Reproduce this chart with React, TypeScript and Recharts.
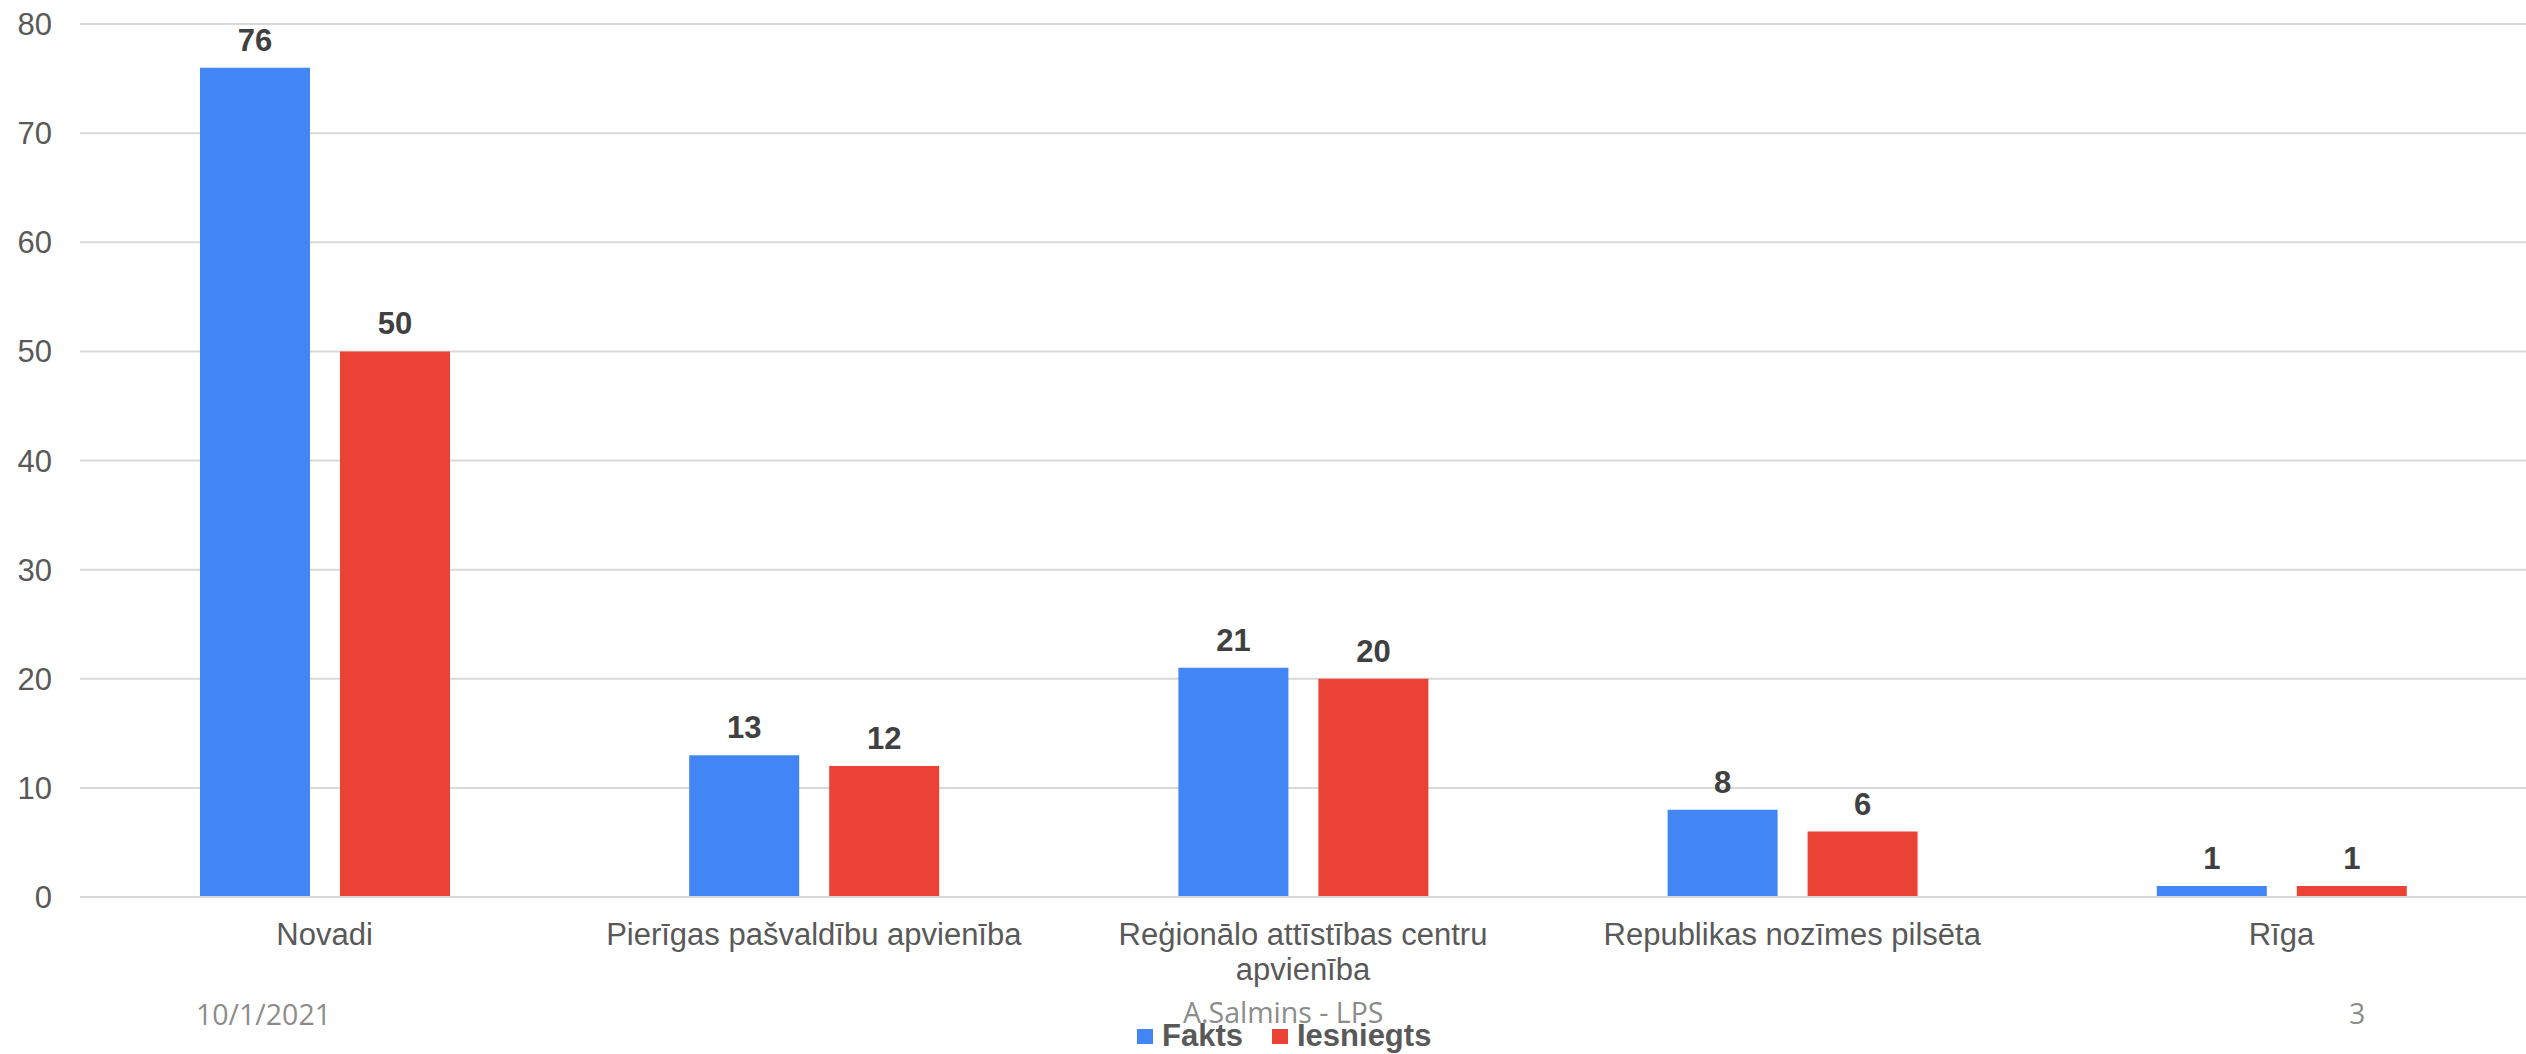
import React from "react";
import { BarChart, Bar, XAxis, YAxis, CartesianGrid, LabelList, Legend } from "recharts";

const FONT = '"Liberation Sans", Arial, sans-serif';
const FOOTER_FONT = '"Open Sans", "Liberation Sans", sans-serif';

const categories = [
  "Novadi",
  "Pierīgas pašvaldību apvienība",
  "Reģionālo attīstības centru apvienība",
  "Republikas nozīmes pilsēta",
  "Rīga",
];
const fakts = [76, 13, 21, 8, 1];
const iesniegts = [50, 12, 20, 6, 1];
const yTicks = [0, 10, 20, 30, 40, 50, 60, 70, 80];

const data = categories.map((name, i) => ({
  name,
  fakts: fakts[i],
  iesniegts: iesniegts[i],
}));

// greedy word wrap so long category names break onto a second line
function wrapLabel(text: string, maxChars: number): string[] {
  const lines: string[] = [];
  let current = "";
  for (const word of text.split(" ")) {
    const next = current ? `${current} ${word}` : word;
    if (next.length > maxChars && current) {
      lines.push(current);
      current = word;
    } else {
      current = next;
    }
  }
  if (current) lines.push(current);
  return lines;
}

function CategoryTick(props: any) {
  const { x, y, payload } = props;
  const lines = wrapLabel(String(payload.value), 30);
  return (
    <text x={x} y={y} textAnchor="middle" fill="#595959" fontSize={31} fontFamily={FONT}>
      {lines.map((line, i) => (
        <tspan key={i} x={x} dy={i === 0 ? 48 : 35}>
          {line}
        </tspan>
      ))}
    </text>
  );
}

function LegendContent(props: any) {
  const { payload = [] } = props;
  return (
    <div
      style={{
        display: "flex",
        alignItems: "center",
        fontFamily: FONT,
        fontWeight: 700,
        fontSize: 31,
        lineHeight: "34px",
        color: "#595959",
        whiteSpace: "nowrap",
      }}
    >
      {payload.map((entry: any, i: number) => (
        <span
          key={entry.value}
          style={{ display: "flex", alignItems: "center", marginLeft: i === 0 ? 0 : 29 }}
        >
          <span
            style={{
              display: "inline-block",
              width: 16,
              height: 15,
              background: entry.color,
              marginRight: 9,
            }}
          />
          {entry.value}
        </span>
      ))}
    </div>
  );
}

export default function App() {
  return (
    <div
      style={{
        position: "absolute",
        left: 0,
        top: 0,
        width: 2526,
        height: 1054,
        background: "#ffffff",
        overflow: "hidden",
      }}
    >
      {/* slide footer: date, author, page number */}
      <svg
        width={2526}
        height={1054}
        style={{ position: "absolute", left: 0, top: 0, pointerEvents: "none" }}
      >
        <g fontFamily={FOOTER_FONT} fontSize={28.5} fill="#8c8c8c">
          <text x={196} y={1025}>10/1/2021</text>
          <text x={1183} y={1023}>A.Salmins - LPS</text>
          <text x={2349} y={1024}>3</text>
        </g>
      </svg>
      <div style={{ position: "absolute", left: 0, top: 0 }}>
        <BarChart
          width={2526}
          height={1054}
          data={data}
          margin={{ top: 24, right: 0, bottom: 57, left: 0 }}
          barSize={110}
          barGap={30}
        >
          <CartesianGrid vertical={false} stroke="#d9d9d9" strokeWidth={2} />
          <XAxis
            dataKey="name"
            height={100}
            interval={0}
            axisLine={{ stroke: "#d9d9d9", strokeWidth: 2 }}
            tickLine={false}
            tickSize={0}
            tickMargin={0}
            tick={<CategoryTick />}
          />
          <YAxis
            width={80}
            domain={[0, 80]}
            ticks={yTicks}
            axisLine={false}
            tickLine={false}
            tickMargin={22}
            tick={{ fontSize: 31, fill: "#595959", fontFamily: FONT }}
          />
          <Legend
            layout="horizontal"
            verticalAlign="middle"
            align="center"
            content={<LegendContent />}
            wrapperStyle={{ position: "absolute", left: 1137, top: 1019, width: "auto", height: 34 }}
          />
          <Bar dataKey="fakts" name="Fakts" fill="#4285f4" isAnimationActive={false}>
            <LabelList
              dataKey="fakts"
              position="top"
              offset={17}
              fill="#404040"
              fontSize={31}
              fontWeight={700}
              fontFamily={FONT}
            />
          </Bar>
          <Bar dataKey="iesniegts" name="Iesniegts" fill="#ea4335" isAnimationActive={false}>
            <LabelList
              dataKey="iesniegts"
              position="top"
              offset={17}
              fill="#404040"
              fontSize={31}
              fontWeight={700}
              fontFamily={FONT}
            />
          </Bar>
        </BarChart>
      </div>
    </div>
  );
}
